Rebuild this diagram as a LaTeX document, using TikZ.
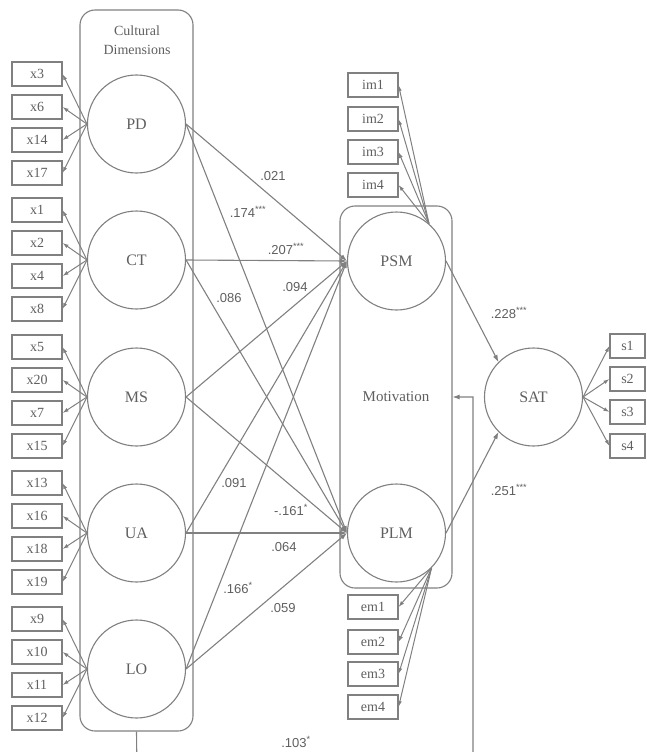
\documentclass[tikz,border=0pt]{standalone}
\usepackage{fontspec}
\setmainfont{Liberation Serif}
\setsansfont{Liberation Sans}
\usetikzlibrary{arrows.meta,calc}
\definecolor{semline}{RGB}{128,128,128}
\definecolor{semtext}{RGB}{95,95,95}
\tikzset{
  latent/.style={circle,draw=semline,line width=1.1pt,minimum size=98pt,inner sep=0pt,
    text=semtext,font=\fontsize{16}{16}\selectfont},
  obs/.style={rectangle,draw=semline,line width=1.1pt,minimum width=50pt,minimum height=24pt,
    inner sep=0pt,text=semtext,font=\fontsize{14}{14}\selectfont},
  grp/.style={rectangle,rounded corners=15pt,draw=semline,line width=1.1pt,
    text=semtext,font=\fontsize{15}{15}\selectfont},
  coef/.style={text=semtext,font=\sffamily\fontsize{13}{13}\selectfont},
  path/.style={semline,line width=1.1pt,-{Latex[length=7pt,width=5pt]}},
  load/.style={semline,line width=1pt,-{Latex[length=6pt,width=4pt]}}
}
\begin{document}
\begin{tikzpicture}[x=1pt,y=-1pt]
  \useasboundingbox (0,0) rectangle (646,752);
  \clip (0,0) rectangle (646,752);
  % group boxes
  \node[grp,minimum width=113pt,minimum height=721pt] (CD) at (136.5,370.5) {};
  \node[text=semtext,font=\fontsize{14}{19}\selectfont,align=center] (CDlab) at (137,40) {Cultural\\Dimensions};
  \node[grp,minimum width=112pt,minimum height=382pt] (MOT) at (396,397) {Motivation};
  % latent variables
  \node[latent] (PD) at (136.5,124) {PD};
  \node[latent] (CT) at (136.5,260) {CT};
  \node[latent] (MS) at (136.5,397) {MS};
  \node[latent] (UA) at (136.5,533) {UA};
  \node[latent] (LO) at (136.5,669) {LO};
  \node[latent] (PSM) at (396.5,261) {PSM};
  \node[latent] (PLM) at (396.5,533) {PLM};
  \node[latent] (SAT) at (533.5,397) {SAT};
  % indicators of the cultural dimensions
  \foreach \lv/\a/\b/\c/\d in {PD/x3/x6/x14/x17,CT/x1/x2/x4/x8,MS/x5/x20/x7/x15,UA/x13/x16/x18/x19,LO/x9/x10/x11/x12}{
    \node[obs] (\a) at ($(\lv)+(-99.5,-50)$) {\a};
    \node[obs] (\b) at ($(\lv)+(-99.5,-17)$) {\b};
    \node[obs] (\c) at ($(\lv)+(-99.5,16)$) {\c};
    \node[obs] (\d) at ($(\lv)+(-99.5,49)$) {\d};
    \foreach \ind in {\a,\b,\c,\d}
      \draw[load] (\lv.west) -- (\ind.east);
  }
  % indicators of PSM, PLM, SAT
  \foreach \n/\y in {1/85,2/119,3/152,4/185}{
    \node[obs] (im\n) at (373,\y) {im\n};
    \draw[load] (PSM.49) -- (im\n.east);
  }
  \foreach \n/\y in {1/607,2/642,3/674,4/707}{
    \node[obs] (em\n) at (373,\y) {em\n};
    \draw[load] (PLM.-45) -- (em\n.east);
  }
  \foreach \n/\y in {1/346,2/379,3/412,4/446}{
    \node[obs,minimum width=35pt] (s\n) at (627.5,\y) {s\n};
    \draw[load] (SAT.east) -- (s\n.west);
  }
  % structural paths
  \foreach \lv in {PD,CT,MS,UA,LO}{
    \draw[path] (\lv.east) -- (PSM.west);
    \draw[path] (\lv.east) -- (PLM.west);
  }
  \draw[path] (PSM.east) -- (SAT.135);
  \draw[path] (PLM.east) -- (SAT.225);
  % feedback path
  \coordinate (fbA) at (137,775);
  \coordinate (fbB) at (473,775);
  \draw[path] (CD.south) -- (fbA) -- (fbB) |- (MOT.east);
  % coefficients
  \node[coef] (cPDPSM) at (273,176) {.021};
  \node[coef] (cPDPLM) at (248,212) {.174\textsuperscript{***}};
  \node[coef] (cCTPSM) at (286,249) {.207\textsuperscript{***}};
  \node[coef] (cCTPLM) at (229,298) {.086};
  \node[coef] (cMSPSM) at (295,287) {.094};
  \node[coef] (cMSPLM) at (291,510) {-.161\textsuperscript{*}};
  \node[coef] (cUAPSM) at (234,483) {.091};
  \node[coef] (cUAPLM) at (284,547) {.064};
  \node[coef] (cLOPSM) at (238,588) {.166\textsuperscript{*}};
  \node[coef] (cLOPLM) at (283,608) {.059};
  \node[coef] (cPSMSAT) at (509,313) {.228\textsuperscript{***}};
  \node[coef] (cPLMSAT) at (509,490) {.251\textsuperscript{***}};
  \node[coef] (cfb) at (296,742) {.103\textsuperscript{*}};
\end{tikzpicture}
\end{document}
